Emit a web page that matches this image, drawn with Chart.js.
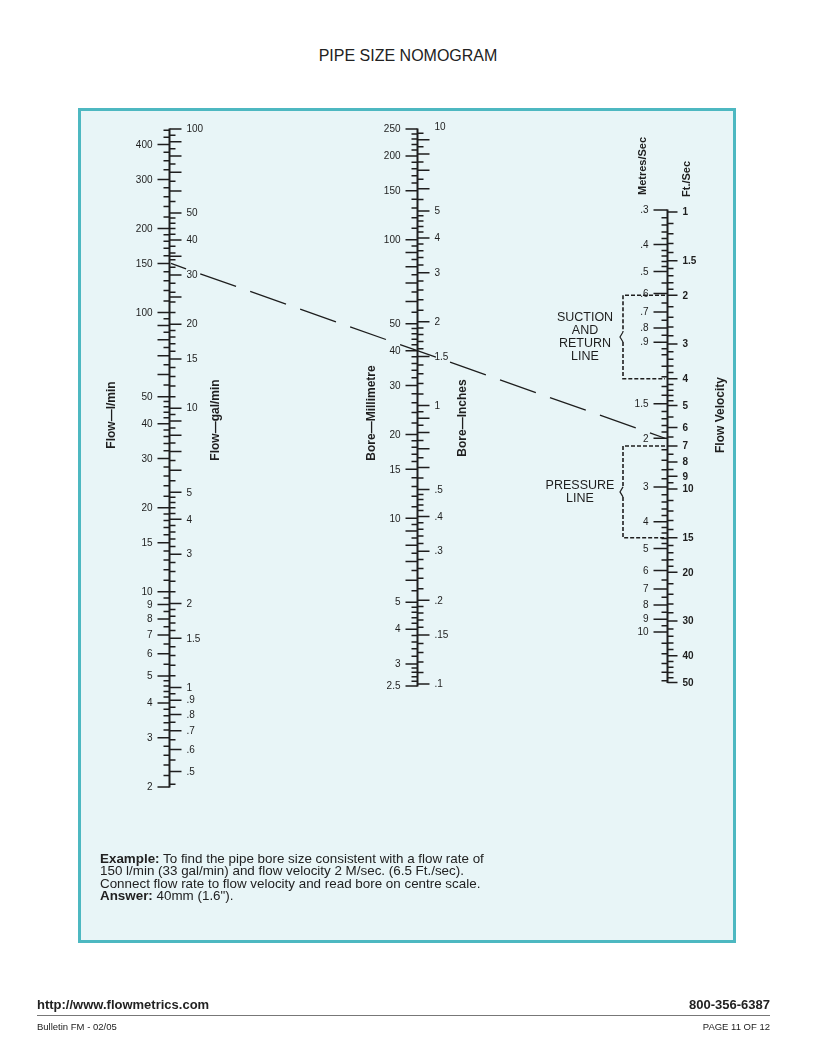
<!DOCTYPE html>
<html>
<head>
<meta charset="utf-8">
<script src="https://cdn.jsdelivr.net/npm/chart.js@4.4.0/dist/chart.umd.min.js"></script>
<style>
  body { margin: 0; background: #fff; font-family: "Liberation Sans", Arial, sans-serif; color: #222; }
  #page { position: relative; width: 816px; height: 1056px; overflow: hidden; }
  #title { position: absolute; top: 47px; left: 0; width: 816px; text-align: center; font-size: 16px; color: #222; }
  #box { position: absolute; left: 78px; top: 108px; width: 652px; height: 829px; border: 3px solid #4db8c1; background: #e8f5f7; }
  #chart { position: absolute; left: 0; top: 0; }
  #example { position: absolute; left: 100px; top: 853px; font-size: 13.4px; line-height: 12.3px; color: #222; }
  .foot { position: absolute; color: #222; }
  #url { left: 37px; top: 997px; font-size: 13px; font-weight: bold; }
  #phone { right: 46px; top: 997px; font-size: 13px; font-weight: bold; }
  #rule { position: absolute; left: 37px; top: 1015px; width: 733px; height: 1px; background: #777; }
  #bulletin { left: 37px; top: 1021px; font-size: 9.5px; }
  #pageno { right: 46px; top: 1021px; font-size: 9.5px; }
</style>
</head>
<body>
<div id="page">
  <div id="title">PIPE SIZE NOMOGRAM</div>
  <div id="box"></div>
  <canvas id="chart" width="816" height="1056"></canvas>
  <div id="example"><b>Example:</b> To find the pipe bore size consistent with a flow rate of<br>150 l/min (33 gal/min) and flow velocity 2 M/sec. (6.5 Ft./sec).<br>Connect flow rate to flow velocity and read bore on centre scale.<br><b>Answer:</b> 40mm (1.6").</div>
  <div class="foot" id="url">http://www.flowmetrics.com</div>
  <div class="foot" id="phone">800-356-6387</div>
  <div id="rule"></div>
  <div class="foot" id="bulletin">Bulletin FM - 02/05</div>
  <div class="foot" id="pageno">PAGE 11 OF 12</div>
</div>
<script>
// flow scale (left): l/min on the left side, imperial gal/min on the right
const flowLpmLabels = [400, 300, 200, 150, 100, 50, 40, 30, 20, 15, 10, 9, 8, 7, 6, 5, 4, 3, 2];
const flowLpmLong = [90, 80, 70, 60];
const flowLpmMinor = [[2, 5, 0.2], [5, 10, 0.5], [10, 20, 1], [20, 50, 2], [50, 100, 5], [100, 200, 10], [200, 300, 20], [300, 450, 25]];
const flowGpmLabels = [100, 50, 40, 30, 20, 15, 10, 5, 4, 3, 2, 1.5, 1, 0.9, 0.8, 0.7, 0.6, 0.5];
const flowGpmLong = [90, 80, 70, 60, 35, 25, 9, 8, 7, 6];
const flowGpmMinor = [[0.45, 1, 0.05], [1, 2, 0.1], [2, 5, 0.2], [5, 10, 0.5], [10, 20, 1], [20, 50, 2], [50, 100, 5]];

// bore scale (centre): millimetres left, inches right
const boreMmLabels = [250, 200, 150, 100, 50, 40, 30, 20, 15, 10, 5, 4, 3, 2.5];
const boreMmLong = [90, 80, 70, 60, 9, 8, 7, 6];
const boreMmMinor = [[2.5, 3, 0.1], [3, 5, 0.2], [5, 10, 0.5], [10, 20, 1], [20, 50, 2], [50, 100, 5], [100, 250, 10]];
const boreInLabels = [10, 5, 4, 3, 2, 1.5, 1, 0.5, 0.4, 0.3, 0.2, 0.15, 0.1];
const boreInLong = [9, 8, 7, 6, 0.9, 0.8, 0.7, 0.6];
const boreInMinor = [[0.1, 0.2, 0.01], [0.2, 0.5, 0.02], [0.5, 1, 0.05], [1, 2, 0.1], [2, 5, 0.2], [5, 10, 0.5]];

// velocity scale (right): metres/sec left, ft/sec right
const velMsLabels = [0.3, 0.4, 0.5, 0.6, 0.7, 0.8, 0.9, 1.5, 2, 3, 4, 5, 6, 7, 8, 9, 10];
const velMsMinor = [[0.3, 0.5, 0.02], [0.5, 1, 0.05], [1, 2, 0.1], [2, 5, 0.2], [5, 10, 0.5], [10, 15, 1]];
const velFtLabels = [1, 1.5, 2, 3, 4, 5, 6, 7, 8, 9, 10, 15, 20, 30, 40, 50];
const velFtMinor = [[1, 2, 0.1], [2, 5, 0.2], [5, 10, 0.5], [10, 20, 1], [20, 50, 2]];

// recommended velocity bands (ft/sec)
const suctionBand = [2, 4];
const pressureBand = [7, 15];

// worked example
const exampleFlow = 150;    // l/min
const exampleVelocity = 2;  // m/sec

const LITRES_PER_GAL = 4.546;
const MM_PER_IN = 25.4;
const M_PER_FT = 0.3048;

// axis ranges as printed
const flowRange = [2, 454.6];     // l/min
const boreRange = [2.5, 250];     // mm
const velRange = [0.3, 15.24];    // m/s
// scale limits that put each printed range at its height on the page
const flowLimits = [2, 454.6];
const boreLimits = [1.085, 250];
const velLimits = [0.153, 36.3];

function fmt(v) {
    return v < 1 ? String(v).replace(/^0/, '') : String(v);
}

function stepTicks(ranges) {
    const out = [];
    ranges.forEach(([a, b, s]) => {
        for (let v = a; v < b + 1e-9; v += s) out.push(+v.toFixed(4));
    });
    return out;
}

const axesDef = [
    {
        pos: 0, lineId: 'yFlow', range: flowRange,
        sides: [
            {id: 'yFlow', dir: -1, labels: flowLpmLabels, longs: flowLpmLong, minor: flowLpmMinor, len: 12},
            {id: 'yGal', dir: 1, labels: flowGpmLabels, longs: flowGpmLong, minor: flowGpmMinor, len: 12}
        ],
        titles: [{text: 'Flow\u2014l/min', dx: -58, y: 415}, {text: 'Flow\u2014gal/min', dx: 46, y: 420}]
    },
    {
        pos: 0.995, lineId: 'yMm', range: boreRange,
        sides: [
            {id: 'yMm', dir: -1, labels: boreMmLabels, longs: boreMmLong, minor: boreMmMinor, len: 12},
            {id: 'yIn', dir: 1, labels: boreInLabels, longs: boreInLong, minor: boreInMinor, len: 12}
        ],
        titles: [{text: 'Bore\u2014Millimetre', dx: -46, y: 413}, {text: 'Bore\u2014Inches', dx: 45, y: 418}]
    },
    {
        pos: 2, lineId: 'yMs', range: velRange,
        sides: [
            {id: 'yMs', dir: -1, labels: velMsLabels, longs: [], minor: velMsMinor, len: 14},
            {id: 'yFt', dir: 1, labels: velFtLabels, longs: [], minor: velFtMinor, len: 10, bold: true}
        ],
        titles: [{text: 'Flow Velocity', dx: 53, y: 415}]
    }
];

const nomogramPlugin = {
    id: 'nomogram',
    afterDraw(chart) {
        const ctx = chart.ctx;
        const xs = chart.scales.x;
        ctx.save();
        ctx.strokeStyle = '#1e1e1e';
        ctx.fillStyle = '#1e1e1e';

        axesDef.forEach(ax => {
            const x = Math.round(xs.getPixelForValue(ax.pos)) + 0.5;
            const ls = chart.scales[ax.lineId];
            const yA = ls.getPixelForValue(ax.range[0]);
            const yB = ls.getPixelForValue(ax.range[1]);
            const lo = Math.min(yA, yB) - 0.5, hi = Math.max(yA, yB) + 0.5;

            ax.sides.forEach(side => {
                const sc = chart.scales[side.id];
                const inRange = y => y >= lo - 0.01 && y <= hi + 0.01;
                ctx.lineWidth = 1.5;
                ctx.beginPath();
                stepTicks(side.minor).forEach(v => {
                    const y = sc.getPixelForValue(v);
                    if (!inRange(y)) return;
                    ctx.moveTo(x, y);
                    ctx.lineTo(x + side.dir * 6, y);
                });
                side.longs.concat(side.labels).forEach(v => {
                    const y = sc.getPixelForValue(v);
                    if (!inRange(y)) return;
                    ctx.moveTo(x, y);
                    ctx.lineTo(x + side.dir * side.len, y);
                });
                ctx.stroke();

                ctx.font = (side.bold ? 'bold ' : '') + '10px "Liberation Sans", Arial, sans-serif';
                ctx.textAlign = side.dir < 0 ? 'right' : 'left';
                ctx.textBaseline = 'middle';
                side.labels.forEach(v => {
                    const y = sc.getPixelForValue(v);
                    ctx.fillText(fmt(v), x + side.dir * (side.len + 5), y + 0.5);
                });
            });

            ctx.lineWidth = 2;
            ctx.beginPath();
            ctx.moveTo(x, lo);
            ctx.lineTo(x, hi);
            ctx.stroke();

            ctx.font = 'bold 12px "Liberation Sans", Arial, sans-serif';
            ctx.textAlign = 'center';
            ctx.textBaseline = 'middle';
            ax.titles.forEach(t => {
                ctx.save();
                ctx.translate(x + t.dx, t.y);
                ctx.rotate(-Math.PI / 2);
                ctx.fillText(t.text, 0, 0);
                ctx.restore();
            });
        });

        // unit headings above the velocity scale
        const xv = xs.getPixelForValue(2);
        ctx.font = 'bold 11px "Liberation Sans", Arial, sans-serif';
        ctx.textAlign = 'left';
        ctx.textBaseline = 'middle';
        [['Metres/Sec', -24, 195], ['Ft./Sec', 20, 197]].forEach(([txt, dx, y]) => {
            ctx.save();
            ctx.translate(xv + dx, y);
            ctx.rotate(-Math.PI / 2);
            ctx.fillText(txt, 0, 0);
            ctx.restore();
        });

        // velocity bands
        const ft = chart.scales.yFt;
        const bands = [
            {band: suctionBand, lines: ['SUCTION', 'AND', 'RETURN', 'LINE'], cx: xv - 82},
            {band: pressureBand, lines: ['PRESSURE', 'LINE'], cx: xv - 87}
        ];
        const bx = xv - 44;
        bands.forEach(b => {
            const y1 = ft.getPixelForValue(b.band[0]);
            const y2 = ft.getPixelForValue(b.band[1]);
            const ym = (y1 + y2) / 2;
            ctx.lineWidth = 1.6;
            ctx.setLineDash([4, 2]);
            ctx.beginPath();
            ctx.moveTo(xv - 2, y1);
            ctx.lineTo(bx, y1);
            ctx.lineTo(bx, ym - 5);
            ctx.moveTo(bx, ym + 5);
            ctx.lineTo(bx, y2);
            ctx.lineTo(xv - 2, y2);
            ctx.stroke();
            ctx.setLineDash([]);
            ctx.lineWidth = 1.2;
            ctx.beginPath();
            ctx.moveTo(bx, ym - 5);
            ctx.lineTo(bx - 3, ym);
            ctx.lineTo(bx, ym + 5);
            ctx.stroke();

            ctx.font = '12.5px "Liberation Sans", Arial, sans-serif';
            ctx.textAlign = 'center';
            ctx.textBaseline = 'middle';
            b.lines.forEach((ln, i) => {
                ctx.fillText(ln, b.cx, ym + (i - (b.lines.length - 1) / 2) * 12.8);
            });
        });

        // example line: flow rate to velocity, crossing the bore scale
        const xa = xs.getPixelForValue(0), xb = xs.getPixelForValue(2);
        const ya = chart.scales.yFlow.getPixelForValue(exampleFlow);
        const yb = chart.scales.yMs.getPixelForValue(exampleVelocity);
        ctx.lineWidth = 1.3;
        ctx.setLineDash([38, 15]);
        ctx.lineDashOffset = 22;
        ctx.beginPath();
        ctx.moveTo(xa + 2, ya);
        ctx.lineTo(xb - 2, yb);
        ctx.stroke();
        ctx.setLineDash([]);
        ctx.restore();
    }
};

function logAxis(min, max, reverse) {
    return {type: 'logarithmic', display: false, min: min, max: max, reverse: !!reverse};
}

new Chart(document.getElementById('chart').getContext('2d'), {
    type: 'line',
    data: {datasets: []},
    options: {
        responsive: false,
        animation: false,
        events: [],
        layout: {padding: {left: 169, right: 149, top: 129, bottom: 269}},
        plugins: {legend: {display: false}, tooltip: {enabled: false}},
        scales: {
            x: {type: 'linear', display: false, min: 0, max: 2},
            yFlow: logAxis(flowLimits[0], flowLimits[1]),
            yGal: logAxis(flowLimits[0] / LITRES_PER_GAL, flowLimits[1] / LITRES_PER_GAL),
            yMm: logAxis(boreLimits[0], boreLimits[1]),
            yIn: logAxis(boreLimits[0] / MM_PER_IN, boreLimits[1] / MM_PER_IN),
            yMs: logAxis(velLimits[0], velLimits[1], true),
            yFt: logAxis(velLimits[0] / M_PER_FT, velLimits[1] / M_PER_FT, true)
        }
    },
    plugins: [nomogramPlugin]
});
</script>
</body>
</html>
